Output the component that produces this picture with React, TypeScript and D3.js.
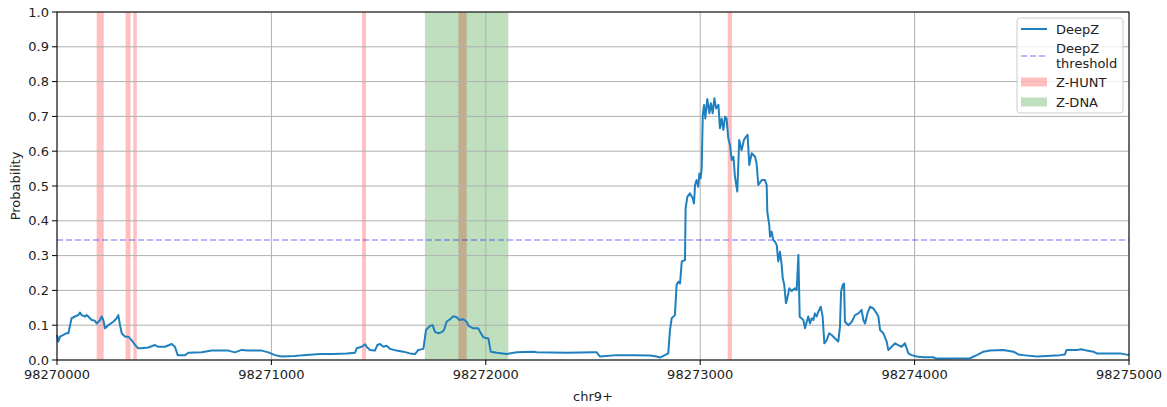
import React from "react";
import * as d3 from "d3";

const START = 98270000;
const END = 98275000;

// genomic positions (offset from START) and DeepZ probabilities
const offsets: number[] = [
  0, 6, 14, 30, 45, 53, 61, 68, 84, 99, 107, 115, 131, 138, 146, 162, 177, 185, 201, 208, 216, 224, 239, 263, 278, 286, 294, 302, 317, 333, 348, 364, 379, 395, 426, 457, 473, 504, 535, 550, 563, 597, 613, 675, 721, 799, 830, 861, 892, 955, 986, 1017, 1048, 1110, 1149,
  1227, 1289, 1351, 1390, 1398, 1421, 1437, 1444, 1460, 1483, 1494, 1507, 1522, 1538, 1553, 1584, 1615, 1646, 1670, 1685, 1709, 1721, 1740, 1752, 1763, 1779, 1794, 1805, 1817, 1833, 1849, 1864, 1877, 1895, 1911, 1919, 1942, 1965, 1973, 1989, 2012, 2023, 2051, 2097, 2144, 2222, 2237, 2377, 2502, 2517, 2533, 2610, 2688, 2766, 2797, 2812, 2851,
  2859, 2867, 2882, 2890, 2898, 2906, 2914, 2929, 2932, 2940, 2952, 2965, 2971, 2976, 2983, 2991, 2996, 3002, 3007, 3012, 3018, 3024, 3033, 3043, 3050, 3058, 3066, 3074, 3085, 3092, 3100, 3108, 3116, 3123, 3131, 3139, 3147, 3155, 3162, 3173, 3182, 3193, 3204, 3214, 3221, 3229, 3240, 3256, 3263, 3271, 3287, 3302, 3310, 3313, 3322, 3326, 3333, 3341, 3349, 3357, 3364, 3372, 3380, 3385, 3392, 3400, 3406, 3416, 3427, 3442, 3450, 3458, 3464,
  3481, 3489, 3497, 3504, 3512, 3520, 3528, 3535, 3543, 3551, 3562, 3571, 3579, 3590, 3602, 3613, 3629, 3644, 3652, 3657, 3665, 3671, 3675, 3691, 3707, 3722, 3738, 3753, 3761, 3769, 3780, 3792, 3808, 3823, 3831, 3839, 3854, 3870, 3877, 3893, 3909, 3924, 3940, 3955, 3971, 3986, 4010, 4041, 4087, 4103, 4258, 4290, 4321, 4352, 4414, 4461, 4484, 4507, 4569, 4616, 4678, 4701, 4709, 4756, 4779, 4803, 4834, 4849, 4896, 4958, 5000,
];
const probs: number[] = [
  0.072, 0.053, 0.067, 0.072, 0.077, 0.077, 0.1, 0.12, 0.125, 0.129, 0.136, 0.129, 0.125, 0.129, 0.125, 0.115, 0.113, 0.105, 0.115, 0.125, 0.115, 0.091, 0.1, 0.11, 0.12, 0.129, 0.1, 0.077, 0.067, 0.067, 0.057, 0.043, 0.034, 0.034, 0.036, 0.043, 0.038, 0.038, 0.046, 0.038, 0.014, 0.014, 0.021, 0.022, 0.027, 0.027, 0.022, 0.029, 0.027, 0.027, 0.022, 0.014, 0.01, 0.0115, 0.014,
  0.017, 0.017, 0.019, 0.021, 0.034, 0.038, 0.045, 0.038, 0.029, 0.027, 0.043, 0.046, 0.038, 0.041, 0.032, 0.027, 0.024, 0.019, 0.017, 0.029, 0.032, 0.086, 0.098, 0.1, 0.081, 0.077, 0.08, 0.086, 0.11, 0.117, 0.126, 0.123, 0.115, 0.117, 0.11, 0.098, 0.091, 0.091, 0.081, 0.065, 0.062, 0.024, 0.021, 0.017, 0.022, 0.024, 0.022, 0.021, 0.022, 0.022, 0.01, 0.014, 0.014, 0.013, 0.01, 0.007, 0.019,
  0.086, 0.12, 0.129, 0.216, 0.225, 0.22, 0.283, 0.287, 0.436, 0.469, 0.479, 0.465, 0.45, 0.503, 0.517, 0.498, 0.536, 0.522, 0.551, 0.704, 0.733, 0.694, 0.75, 0.709, 0.738, 0.709, 0.752, 0.723, 0.733, 0.666, 0.694, 0.661, 0.699, 0.694, 0.637, 0.618, 0.575, 0.584, 0.527, 0.484, 0.632, 0.603, 0.632, 0.642, 0.647, 0.56, 0.594, 0.584, 0.565, 0.503, 0.517, 0.517, 0.503, 0.426, 0.388, 0.354, 0.369, 0.345, 0.34, 0.33, 0.283, 0.311, 0.273, 0.235, 0.216, 0.163, 0.177, 0.206, 0.198, 0.206, 0.201, 0.302, 0.124,
  0.115, 0.091, 0.11, 0.125, 0.105, 0.12, 0.115, 0.134, 0.125, 0.139, 0.153, 0.125, 0.048, 0.057, 0.077, 0.072, 0.062, 0.053, 0.096, 0.196, 0.216, 0.22, 0.11, 0.1, 0.11, 0.129, 0.134, 0.144, 0.115, 0.105, 0.134, 0.153, 0.148, 0.134, 0.125, 0.086, 0.077, 0.053, 0.029, 0.038, 0.048, 0.043, 0.038, 0.048, 0.019, 0.014, 0.01, 0.008, 0.008, 0.004, 0.005, 0.014, 0.024, 0.027, 0.029, 0.024, 0.016, 0.014, 0.01, 0.0115, 0.014, 0.016, 0.029, 0.029, 0.031, 0.027, 0.024, 0.019, 0.019, 0.019, 0.014,
];

const threshold = 0.345;

const zhuntStarts: number[] = [185, 320, 356, 1423, 1872, 3128];
const zhuntEnds: number[] = [218, 343, 372, 1441, 1911, 3148];
const zdnaStarts: number[] = [1716];
const zdnaEnds: number[] = [2105];

const xTicks: number[] = [98270000, 98271000, 98272000, 98273000, 98274000, 98275000];
const yTicks: number[] = [0, 0.1, 0.2, 0.3, 0.4, 0.5, 0.6, 0.7, 0.8, 0.9, 1.0];

const legendLabels: string[][] = [["DeepZ"], ["DeepZ", "threshold"], ["Z-HUNT"], ["Z-DNA"]];

const W = 1167;
const H = 407;
const M = { left: 57, right: 1129, top: 12, bottom: 360 };
const FONT = "DejaVu Sans, sans-serif";
const LINE_COLOR = "#2080bf";

export default function App() {
  const x = d3.scaleLinear().domain([START, END]).range([M.left, M.right]);
  const y = d3.scaleLinear().domain([0, 1]).range([M.bottom, M.top]);
  const pts: [number, number][] = offsets.map((o, i) => [START + o, probs[i]]);
  const line = d3
    .line<[number, number]>()
    .x((d) => x(d[0]))
    .y((d) => y(d[1]));
  const fmtY = d3.format(".1f");

  return (
    <svg width={W} height={H} style={{ position: "absolute", left: 0, top: 0, background: "white" }} fontFamily={FONT}>
      <rect x={0} y={0} width={W} height={H} fill="white" />
      {/* spans */}
      {zhuntStarts.map((s, i) => (
        <rect key={"zh" + i} x={x(START + s)} y={M.top} width={x(START + zhuntEnds[i]) - x(START + s)} height={M.bottom - M.top} fill="red" fillOpacity={0.25} />
      ))}
      {zdnaStarts.map((s, i) => (
        <rect key={"zd" + i} x={x(START + s)} y={M.top} width={x(START + zdnaEnds[i]) - x(START + s)} height={M.bottom - M.top} fill="green" fillOpacity={0.25} />
      ))}
      {/* grid */}
      {xTicks.map((t) => (
        <line key={"gx" + t} x1={x(t)} x2={x(t)} y1={M.top} y2={M.bottom} stroke="#b0b0b0" strokeWidth={1} />
      ))}
      {yTicks.map((t) => (
        <line key={"gy" + t} x1={M.left} x2={M.right} y1={y(t)} y2={y(t)} stroke="#b0b0b0" strokeWidth={1} />
      ))}
      {/* threshold */}
      <line x1={M.left} x2={M.right} y1={y(threshold)} y2={y(threshold)} stroke="blue" strokeOpacity={0.38} strokeWidth={1.6} strokeDasharray="6,3" />
      {/* DeepZ */}
      <path d={line(pts) || ""} fill="none" stroke={LINE_COLOR} strokeWidth={2} strokeLinejoin="round" />
      {/* spines */}
      <rect x={M.left} y={M.top} width={M.right - M.left} height={M.bottom - M.top} fill="none" stroke="black" strokeWidth={1} />
      {/* x ticks */}
      {xTicks.map((t) => (
        <g key={"tx" + t}>
          <line x1={x(t)} x2={x(t)} y1={M.bottom} y2={M.bottom + 5} stroke="black" strokeWidth={1} />
          <text x={x(t)} y={M.bottom + 9} fontSize={13} textAnchor="middle" dominantBaseline="hanging" fill="#222">
            {t}
          </text>
        </g>
      ))}
      {yTicks.map((t) => (
        <g key={"ty" + t}>
          <line x1={M.left - 5} x2={M.left} y1={y(t)} y2={y(t)} stroke="black" strokeWidth={1} />
          <text x={M.left - 8} y={y(t)} fontSize={13} textAnchor="end" dominantBaseline="central" fill="#222">
            {fmtY(t)}
          </text>
        </g>
      ))}
      <text x={(M.left + M.right) / 2} y={396} fontSize={13} textAnchor="middle" dominantBaseline="central" fill="#222">
        chr9+
      </text>
      <text transform={`translate(15,${(M.top + M.bottom) / 2}) rotate(-90)`} fontSize={13} textAnchor="middle" dominantBaseline="central" fill="#222">
        Probability
      </text>
      {/* legend */}
      <g>
        <rect x={1017} y={18} width={106} height={95} rx={3} fill="white" fillOpacity={0.8} stroke="#cccccc" strokeWidth={1} />
        <line x1={1021} x2={1047} y1={29} y2={29} stroke={LINE_COLOR} strokeWidth={2} />
        <line x1={1021} x2={1047} y1={56} y2={56} stroke="blue" strokeOpacity={0.38} strokeWidth={1.6} strokeDasharray="6,3" />
        <rect x={1021} y={77.5} width={26} height={9} fill="red" fillOpacity={0.25} />
        <rect x={1021} y={97.5} width={26} height={9} fill="green" fillOpacity={0.25} />
        {legendLabels.map((lines, i) => {
          const cy = [29, 56, 82, 102][i];
          const n = lines.length;
          return lines.map((s, j) => (
            <text key={"lg" + i + j} x={1056} y={cy + (j - (n - 1) / 2) * 15} fontSize={13} dominantBaseline="central" fill="#222">
              {s}
            </text>
          ));
        })}
      </g>
    </svg>
  );
}
